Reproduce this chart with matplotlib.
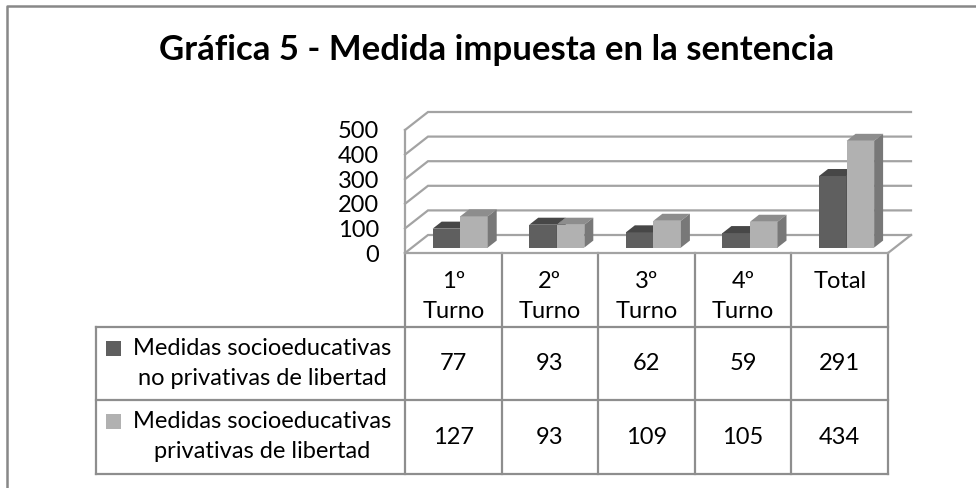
import matplotlib
matplotlib.use('Agg')
import matplotlib.pyplot as plt
from matplotlib.patches import Polygon

# ── datos ─────────────────────────────────────────────────────────────────────
titulo = 'Gráfica 5 - Medida impuesta en la sentencia'
categorias = ['1º\nTurno', '2º\nTurno', '3º\nTurno', '4º\nTurno', 'Total']
series = ['Medidas socioeducativas\nno privativas de libertad',
          'Medidas socioeducativas\nprivativas de libertad']
no_privativas = [77, 93, 62, 59, 291]
privativas = [127, 93, 109, 105, 434]
yticks = [0, 100, 200, 300, 400, 500]

# colores: frente, tapa, lateral
colores = [('#5f5f5f', '#474747', '#444444'),
           ('#b1b1b1', '#8d8d8d', '#787878')]

plt.rcParams['font.family'] = ['Lato', 'DejaVu Sans']
W, H = 976, 488
fig = plt.figure(figsize=(W / 100, H / 100), dpi=100)

# ── layout en pixeles ─────────────────────────────────────────────────────────
PL, PR, PB, PT = 405, 888, 253, 130     # plano frontal del grafico
DX, DY = 23, 18                         # profundidad 3D
ROWS = [253, 327, 400, 474]             # lineas horizontales de la tabla
LEG_L = 96
GRIS = '#a3a3a3'
GRIS_T = '#8e8e8e'

ov = fig.add_axes([0, 0, 1, 1])
ov.set_xlim(0, W)
ov.set_ylim(H, 0)
ov.axis('off')

ax = fig.add_axes([PL / W, 1 - PB / H, (PR - PL) / W, (PB - PT) / H])
ax.set_zorder(2)
ax.patch.set_visible(False)
n = len(categorias)
ax.set_xlim(-0.5, n - 0.5)
ax.set_ylim(0, 500)
for s in ax.spines.values():
    s.set_visible(False)
ax.set_xticks([])
ax.set_yticks(yticks)
ax.tick_params(axis='y', length=0, pad=26 * 0.72, labelsize=17)

ux = (PR - PL) / n
dxd = DX / ux
dyd = DY * 500 / (PB - PT)

# pared lateral, lineas de division y piso
x0, x1 = -0.5, n - 0.5
ax.plot([x0, x0], [0, 500], color=GRIS, lw=1.6, clip_on=False)
for v in yticks:
    ax.plot([x0, x0 + dxd, x1 + dxd], [v, v + dyd, v + dyd],
            color=GRIS, lw=1.6, clip_on=False, solid_joinstyle='miter')
ax.plot([x1, x1 + dxd], [0, dyd], color=GRIS, lw=1.6, clip_on=False)

# barras 3D
t_front, t_depth = 0.3, 0.39
ox, oy = t_front * dxd, t_front * dyd
bx, by = t_depth * dxd, t_depth * dyd
w = 0.285
for k, vals in enumerate([no_privativas, privativas]):
    front, top, side = colores[k]
    xs = [i - w + k * w + ox for i in range(n)]
    ax.bar(xs, vals, width=w, bottom=oy, align='edge', color=front,
           edgecolor='none', clip_on=False, zorder=3 + k)
    for xl, v in zip(xs, vals):
        yt = v + oy
        ax.add_patch(Polygon([(xl, yt), (xl + w, yt), (xl + w + bx, yt + by),
                              (xl + bx, yt + by)], closed=True, color=top,
                             lw=0, clip_on=False, zorder=3 + k))
        ax.add_patch(Polygon([(xl + w, oy), (xl + w, yt), (xl + w + bx, yt + by),
                              (xl + w + bx, oy + by)], closed=True, color=side,
                             lw=0, clip_on=False, zorder=3 + k))

# ── tabla de datos ────────────────────────────────────────────────────────────
col_x = [PL + i * ux for i in range(n + 1)]
lw_t = 1.6
for i, xv in enumerate(col_x):
    ov.plot([xv, xv], [ROWS[0], ROWS[-1]], color=GRIS_T, lw=lw_t)
for yv in ROWS[1:]:
    ov.plot([LEG_L, PR], [yv, yv], color=GRIS_T, lw=lw_t)
ov.plot([LEG_L, LEG_L], [ROWS[1], ROWS[-1]], color=GRIS_T, lw=lw_t)
ov.plot([PL, PR], [ROWS[0], ROWS[0]], color=GRIS, lw=lw_t)

fs = 17
for i, cat in enumerate(categorias):
    cx = (col_x[i] + col_x[i + 1]) / 2
    for j, linea in enumerate(cat.split('\n')):
        ov.text(cx, 281 + j * 31, linea, ha='center', va='center', fontsize=fs)

for k, (nombre, vals) in enumerate(zip(series, [no_privativas, privativas])):
    cy = (ROWS[k + 1] + ROWS[k + 2]) / 2
    lineas = nombre.split('\n')
    for j, linea in enumerate(lineas):
        ov.text(262, cy - 15 + j * 30, linea, ha='center', va='center', fontsize=fs)
    ov.add_patch(plt.Rectangle((106, cy - 15 - 8), 15, 15, color=colores[k][0], lw=0))
    for i, v in enumerate(vals):
        cx = (col_x[i] + col_x[i + 1]) / 2
        ov.text(cx, cy, str(v), ha='center', va='center', fontsize=fs)

# ── titulo y borde ────────────────────────────────────────────────────────────
ov.text(497, 50, titulo, ha='center', va='center', fontsize=25, fontweight='bold')
ov.plot([7, 7, W + 5], [H + 5, 6, 6], color='#888888', lw=1.8, clip_on=False)

fig.savefig('out.png', dpi=100)
